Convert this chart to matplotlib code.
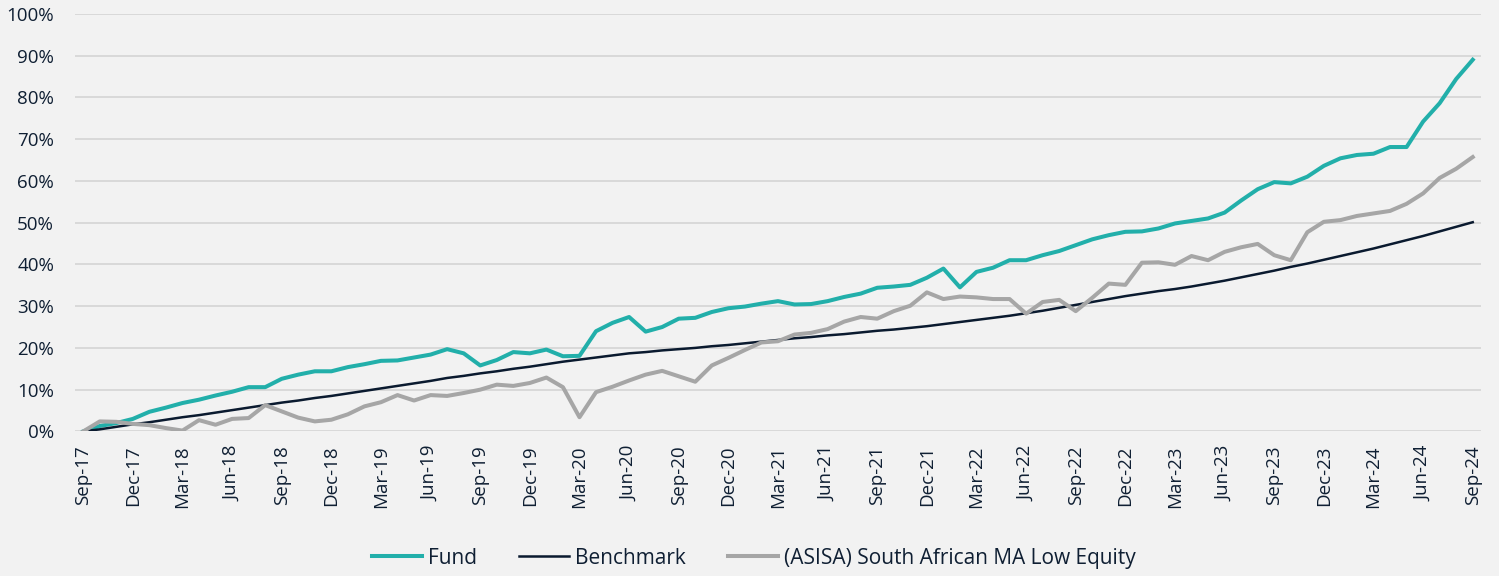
"""
Cumulative performance: Fund vs Benchmark vs ASISA peer group (Sep-17 to Sep-24)
"""

import matplotlib
matplotlib.use("Agg")
import matplotlib.pyplot as plt
import matplotlib.ticker as mticker
import numpy as np

plt.rcParams["font.family"] = ["Open Sans", "DejaVu Sans"]

# ── data (cumulative return, %) monthly from Sep-17 ─────────────────
fund = [
    0.0, 1.3, 2.0, 3.0, 4.7, 5.7, 6.8, 7.6, 8.6, 9.5,
    10.6, 10.6, 12.6, 13.6, 14.4, 14.4, 15.4, 16.1, 16.9, 17.0,
    17.7, 18.4, 19.7, 18.7, 15.8, 17.1, 19.0, 18.7, 19.6, 18.0,
    18.1, 24.0, 26.0, 27.4, 23.9, 25.0, 27.0, 27.2, 28.6, 29.5,
    29.9, 30.6, 31.2, 30.4, 30.5, 31.2, 32.2, 33.0, 34.4, 34.7,
    35.1, 36.8, 39.0, 34.5, 38.2, 39.2, 41.0, 41.0, 42.2, 43.2,
    44.6, 46.0, 47.0, 47.8, 47.9, 48.6, 49.8, 50.4, 51.0, 52.4,
    55.3, 58.0, 59.7, 59.4, 61.0, 63.6, 65.4, 66.2, 66.5, 68.1,
    68.1, 74.2, 78.6, 84.4, 89.0,
]
benchmark = [
    0.0, 0.5, 1.1, 1.7, 2.2, 2.8, 3.4, 3.9, 4.5, 5.1,
    5.7, 6.3, 6.9, 7.4, 8.0, 8.5, 9.1, 9.7, 10.3, 10.9,
    11.5, 12.1, 12.8, 13.3, 13.9, 14.4, 15.0, 15.5, 16.1, 16.7,
    17.2, 17.7, 18.2, 18.7, 19.0, 19.4, 19.7, 20.0, 20.4, 20.7,
    21.1, 21.5, 21.9, 22.3, 22.6, 23.0, 23.3, 23.7, 24.1, 24.4,
    24.8, 25.2, 25.7, 26.2, 26.7, 27.2, 27.7, 28.3, 28.9, 29.6,
    30.3, 31.0, 31.7, 32.4, 33.0, 33.6, 34.1, 34.7, 35.4, 36.1,
    36.9, 37.7, 38.5, 39.4, 40.2, 41.1, 42.0, 42.9, 43.8, 44.8,
    45.8, 46.8, 47.9, 49.0, 50.1,
]
asisa = [
    0.0, 2.4, 2.3, 1.8, 1.5, 0.8, 0.2, 2.7, 1.6, 3.0,
    3.2, 6.3, 4.8, 3.3, 2.4, 2.8, 4.1, 6.0, 7.0, 8.7,
    7.4, 8.7, 8.5, 9.2, 10.0, 11.2, 10.9, 11.6, 12.9, 10.6,
    3.4, 9.4, 10.7, 12.2, 13.6, 14.5, 13.2, 11.9, 15.8, 17.6,
    19.5, 21.3, 21.6, 23.2, 23.6, 24.5, 26.3, 27.4, 27.0, 28.8,
    30.1, 33.3, 31.7, 32.3, 32.1, 31.7, 31.7, 28.2, 31.0, 31.5,
    28.8, 32.0, 35.4, 35.1, 40.4, 40.5, 39.9, 42.0, 41.0, 43.0,
    44.1, 44.9, 42.2, 41.0, 47.7, 50.2, 50.6, 51.6, 52.2, 52.8,
    54.5, 57.0, 60.7, 62.9, 65.7,
]
tick_labels = [
    "Sep-17", "Dec-17", "Mar-18", "Jun-18", "Sep-18", "Dec-18", "Mar-19",
    "Jun-19", "Sep-19", "Dec-19", "Mar-20", "Jun-20", "Sep-20", "Dec-20",
    "Mar-21", "Jun-21", "Sep-21", "Dec-21", "Mar-22", "Jun-22", "Sep-22",
    "Dec-22", "Mar-23", "Jun-23", "Sep-23", "Dec-23", "Mar-24", "Jun-24",
    "Sep-24",
]

BG = "#F2F2F2"
TXT = "#0F1F33"
COLORS = {"Fund": "#22AFAA", "Benchmark": "#0A1A2F",
          "(ASISA) South African MA Low Equity": "#A6A6A6"}

x = np.arange(len(fund))

# ── plot ───────────────────────────────────────────────────────────
fig = plt.figure(figsize=(14.99, 5.76), dpi=100, facecolor=BG)
ax = fig.add_axes([0.050, 0.251, 0.938, 0.725], facecolor=BG)

ax.plot(x, np.array(fund) / 100, color=COLORS["Fund"], linewidth=2.9,
        label="Fund", solid_joinstyle="round")
ax.plot(x, np.array(benchmark) / 100, color=COLORS["Benchmark"], linewidth=1.8,
        label="Benchmark")
ax.plot(x, np.array(asisa) / 100, color=COLORS["(ASISA) South African MA Low Equity"],
        linewidth=2.9, label="(ASISA) South African MA Low Equity",
        solid_joinstyle="round")

ax.set_xlim(-0.5, len(fund) - 0.5)
ax.set_ylim(0, 1.0)
ax.set_yticks(np.arange(0, 1.01, 0.1))
ax.yaxis.set_major_formatter(mticker.FuncFormatter(lambda v, _: f"{v*100:.0f}%"))
ax.set_xticks(np.arange(0, len(fund), 3))
ax.set_xticklabels(tick_labels, rotation=90)

ax.grid(axis="y", color="#D9D9D9", linewidth=1.4)
ax.set_axisbelow(True)
for s in ax.spines.values():
    s.set_visible(False)
ax.tick_params(axis="both", length=0, colors=TXT, labelsize=13.5)
ax.tick_params(axis="y", pad=15)
ax.tick_params(axis="x", pad=10)

leg = fig.legend(loc="center", bbox_to_anchor=(0.503, 0.031), ncol=3,
                 frameon=False, fontsize=15, handlelength=2.4,
                 handletextpad=0.3, columnspacing=2.0)
for t in leg.get_texts():
    t.set_color(TXT)

fig.savefig("out.png", dpi=100, facecolor=BG)
